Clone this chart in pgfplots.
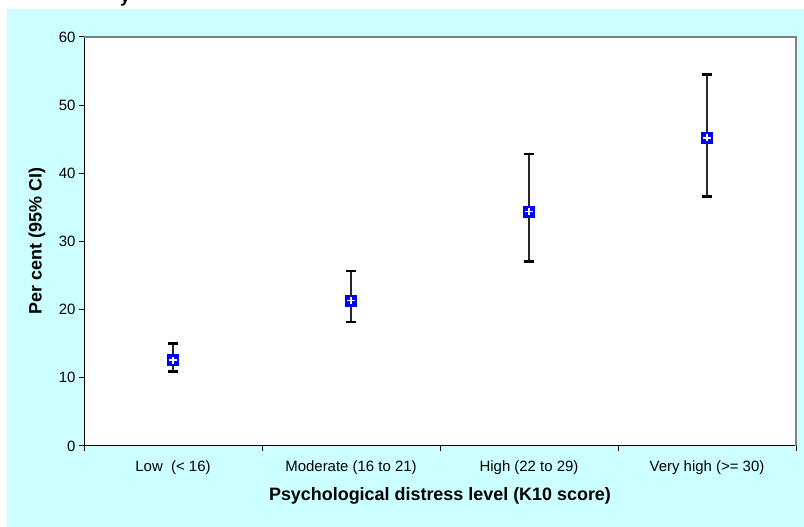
\documentclass[border=0pt]{standalone}
\usepackage{pgfplots}
\pgfplotsset{compat=1.18}
\usepackage{pgfplotstable}
\usepackage{fontspec}
\setmainfont{Liberation Sans}
\definecolor{bgcyan}{RGB}{204,255,255}
\definecolor{mkblue}{RGB}{0,0,255}
\pgfplotstableread{
x y ep em
0 12.6 2.4 1.65
1 21.3 4.4 3.1
2 34.4 8.4 7.3
3 45.2 9.3 8.6
}\distress
\begin{document}
\begin{tikzpicture}[x=1bp,y=1bp]
\path[use as bounding box] (0,0) rectangle (804,527);
\fill[bgcyan] (7,0) rectangle (804,518);
\node[font=\bfseries\fontsize{18}{20}\selectfont, anchor=base] at (125,524) {y};
\begin{axis}[
  at={(84bp,81bp)}, anchor=south west,
  width=712bp, height=409bp, scale only axis,
  axis background/.style={fill=white},
  axis x line*=bottom, axis y line*=left,
  axis line style={black, line width=1bp},
  xmin=-0.5, xmax=3.5, ymin=0, ymax=60,
  ytick={0,10,...,60},
  xtick={0,1,2,3},
  xticklabels={Low\ \ (< 16), Moderate (16 to 21), High (22 to 29), Very high (>= 30)},
  minor xtick={-0.5,0.5,1.5,2.5,3.5},
  major x tick style={draw=none},
  tick align=outside,
  major tick length=5bp, minor tick length=5bp,
  every tick/.style={black, line width=1bp},
  tick label style={font=\fontsize{15}{17}\selectfont, text=black},
  xticklabel style={yshift=-6bp},
  /pgf/number format/assume math mode=true,
  clip=false,
]
\addplot[only marks, mark=square*, mark size=5.5bp, mark options={fill=mkblue, draw=mkblue},
  error bars/.cd, y dir=both, y explicit,
  error bar style={line width=1.3bp, black!85},
  error mark=|, error mark options={mark size=5bp, line width=2.5bp, black}]
  table[x=x, y=y, y error plus=ep, y error minus=em] {\distress};
\addplot[only marks, mark=+, mark size=3.6bp, mark options={draw=white, line width=1.4bp}]
  table[x=x, y=y] {\distress};
\draw[gray, line width=1.5bp] (rel axis cs:0,1) -- (rel axis cs:1,1) -- (rel axis cs:1,0);
\end{axis}
\node[rotate=90, font=\bfseries\fontsize{18}{20}\selectfont] at (37,286) {Per cent (95\% CI)};
\node[font=\bfseries\fontsize{18}{20}\selectfont] at (440,31) {Psychological distress level (K10 score)};
\end{tikzpicture}
\end{document}
